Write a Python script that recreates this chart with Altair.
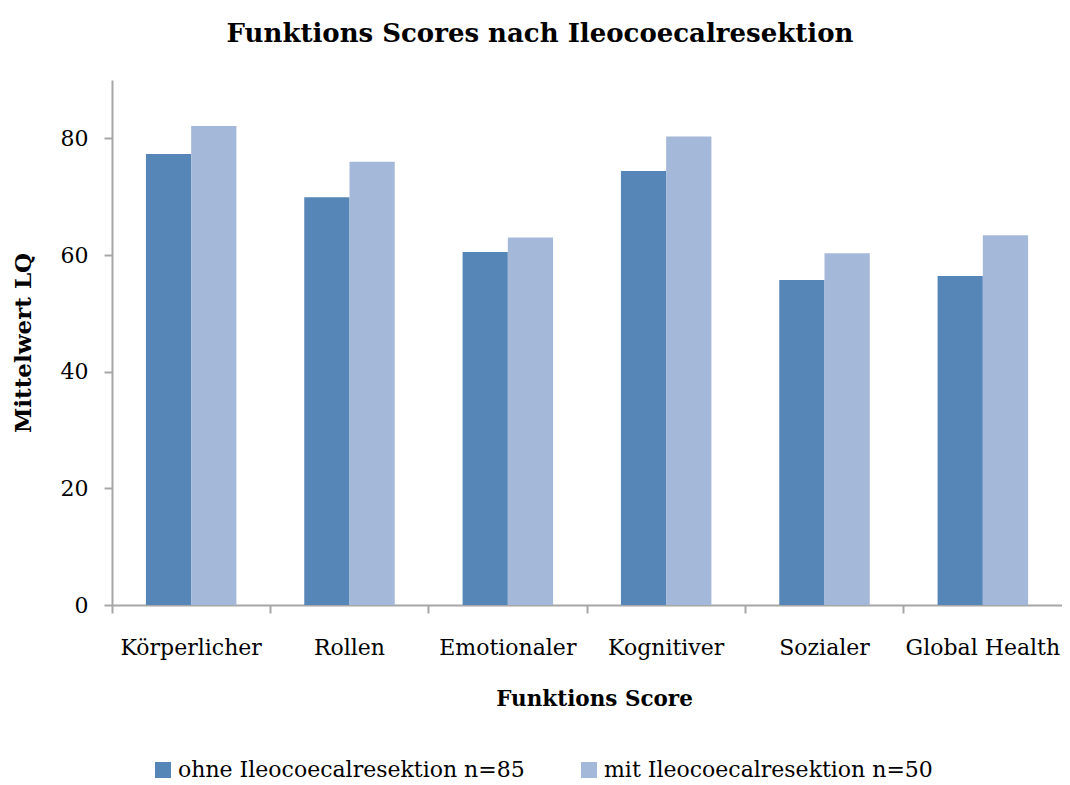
import altair as alt
import pandas as pd

categories = ["Körperlicher", "Rollen", "Emotionaler", "Kognitiver", "Sozialer", "Global Health"]
series_names = ["ohne Ileocoecalresektion n=85", "mit Ileocoecalresektion n=50"]
ohne = [77.3, 69.9, 60.5, 74.4, 55.7, 56.4]
mit = [82.1, 76.0, 63.0, 80.3, 60.3, 63.4]
y_ticks = [0, 20, 40, 60, 80]
colors = ["#5586B7", "#A4B8D9"]

rows = []
for c, a, b in zip(categories, ohne, mit):
    rows.append({"Kategorie": c, "Gruppe": series_names[0], "Wert": a})
    rows.append({"Kategorie": c, "Gruppe": series_names[1], "Wert": b})
df = pd.DataFrame(rows)

FONT = "DejaVu Serif"
AXIS_COLOR = "#A6A6A6"

chart = alt.Chart(df).mark_bar().encode(
    x=alt.X(
        "Kategorie:N",
        sort=categories,
        scale=alt.Scale(paddingInner=0, paddingOuter=0),
        axis=alt.Axis(
            title="Funktions Score",
            bandPosition=0,
            labelAngle=0,
            labelFont=FONT,
            labelFontSize=22,
            labelColor="#000000",
            labelPadding=24,
            labelOverlap=False,
            labelBound=False,
            labelLimit=0,
            titleFont=FONT,
            titleFontSize=21.5,
            titleFontWeight="bold",
            titleColor="#000000",
            titlePadding=30,
            titleX=482,
            domainColor=AXIS_COLOR,
            domainWidth=2,
            tickColor=AXIS_COLOR,
            tickWidth=2,
            tickSize=8,
        ),
    ),
    xOffset=alt.XOffset(
        "Gruppe:N",
        sort=series_names,
        scale=alt.Scale(paddingInner=0, paddingOuter=0.75),
    ),
    y=alt.Y(
        "Wert:Q",
        scale=alt.Scale(domain=[0, 90], nice=False),
        axis=alt.Axis(
            title="Mittelwert LQ",
            values=y_ticks,
            grid=False,
            labelFont=FONT,
            labelFontSize=22,
            labelColor="#000000",
            labelPadding=16,
            titleFont=FONT,
            titleFontSize=23,
            titleFontWeight="bold",
            titleColor="#000000",
            titlePadding=25,
            domainColor=AXIS_COLOR,
            domainWidth=2,
            tickColor=AXIS_COLOR,
            tickWidth=2,
            tickSize=8,
        ),
    ),
    color=alt.Color(
        "Gruppe:N",
        sort=series_names,
        scale=alt.Scale(domain=series_names, range=colors),
        legend=alt.Legend(
            title=None,
            orient="none",
            direction="horizontal",
            legendX=40,
            legendY=679,
            symbolType="square",
            symbolSize=256,
            symbolStrokeWidth=0,
            labelFont=FONT,
            labelFontSize=22,
            labelColor="#000000",
            labelOffset=4,
            labelLimit=0,
            columnPadding=53,
        ),
    ),
).properties(
    width=950,
    height=525,
    autosize=alt.AutoSizeParams(type="none"),
    title=alt.TitleParams(
        "Funktions Scores nach Ileocoecalresektion",
        font=FONT,
        fontSize=26,
        fontWeight="bold",
        color="#000000",
        anchor="middle",
        frame="group",
        dx=-47,
        offset=33,
    ),
    padding={"left": 104, "top": 72, "right": 0, "bottom": 177},
).configure_view(stroke=None)

chart.save("out.html", embed_options={"renderer": "svg", "actions": False})
